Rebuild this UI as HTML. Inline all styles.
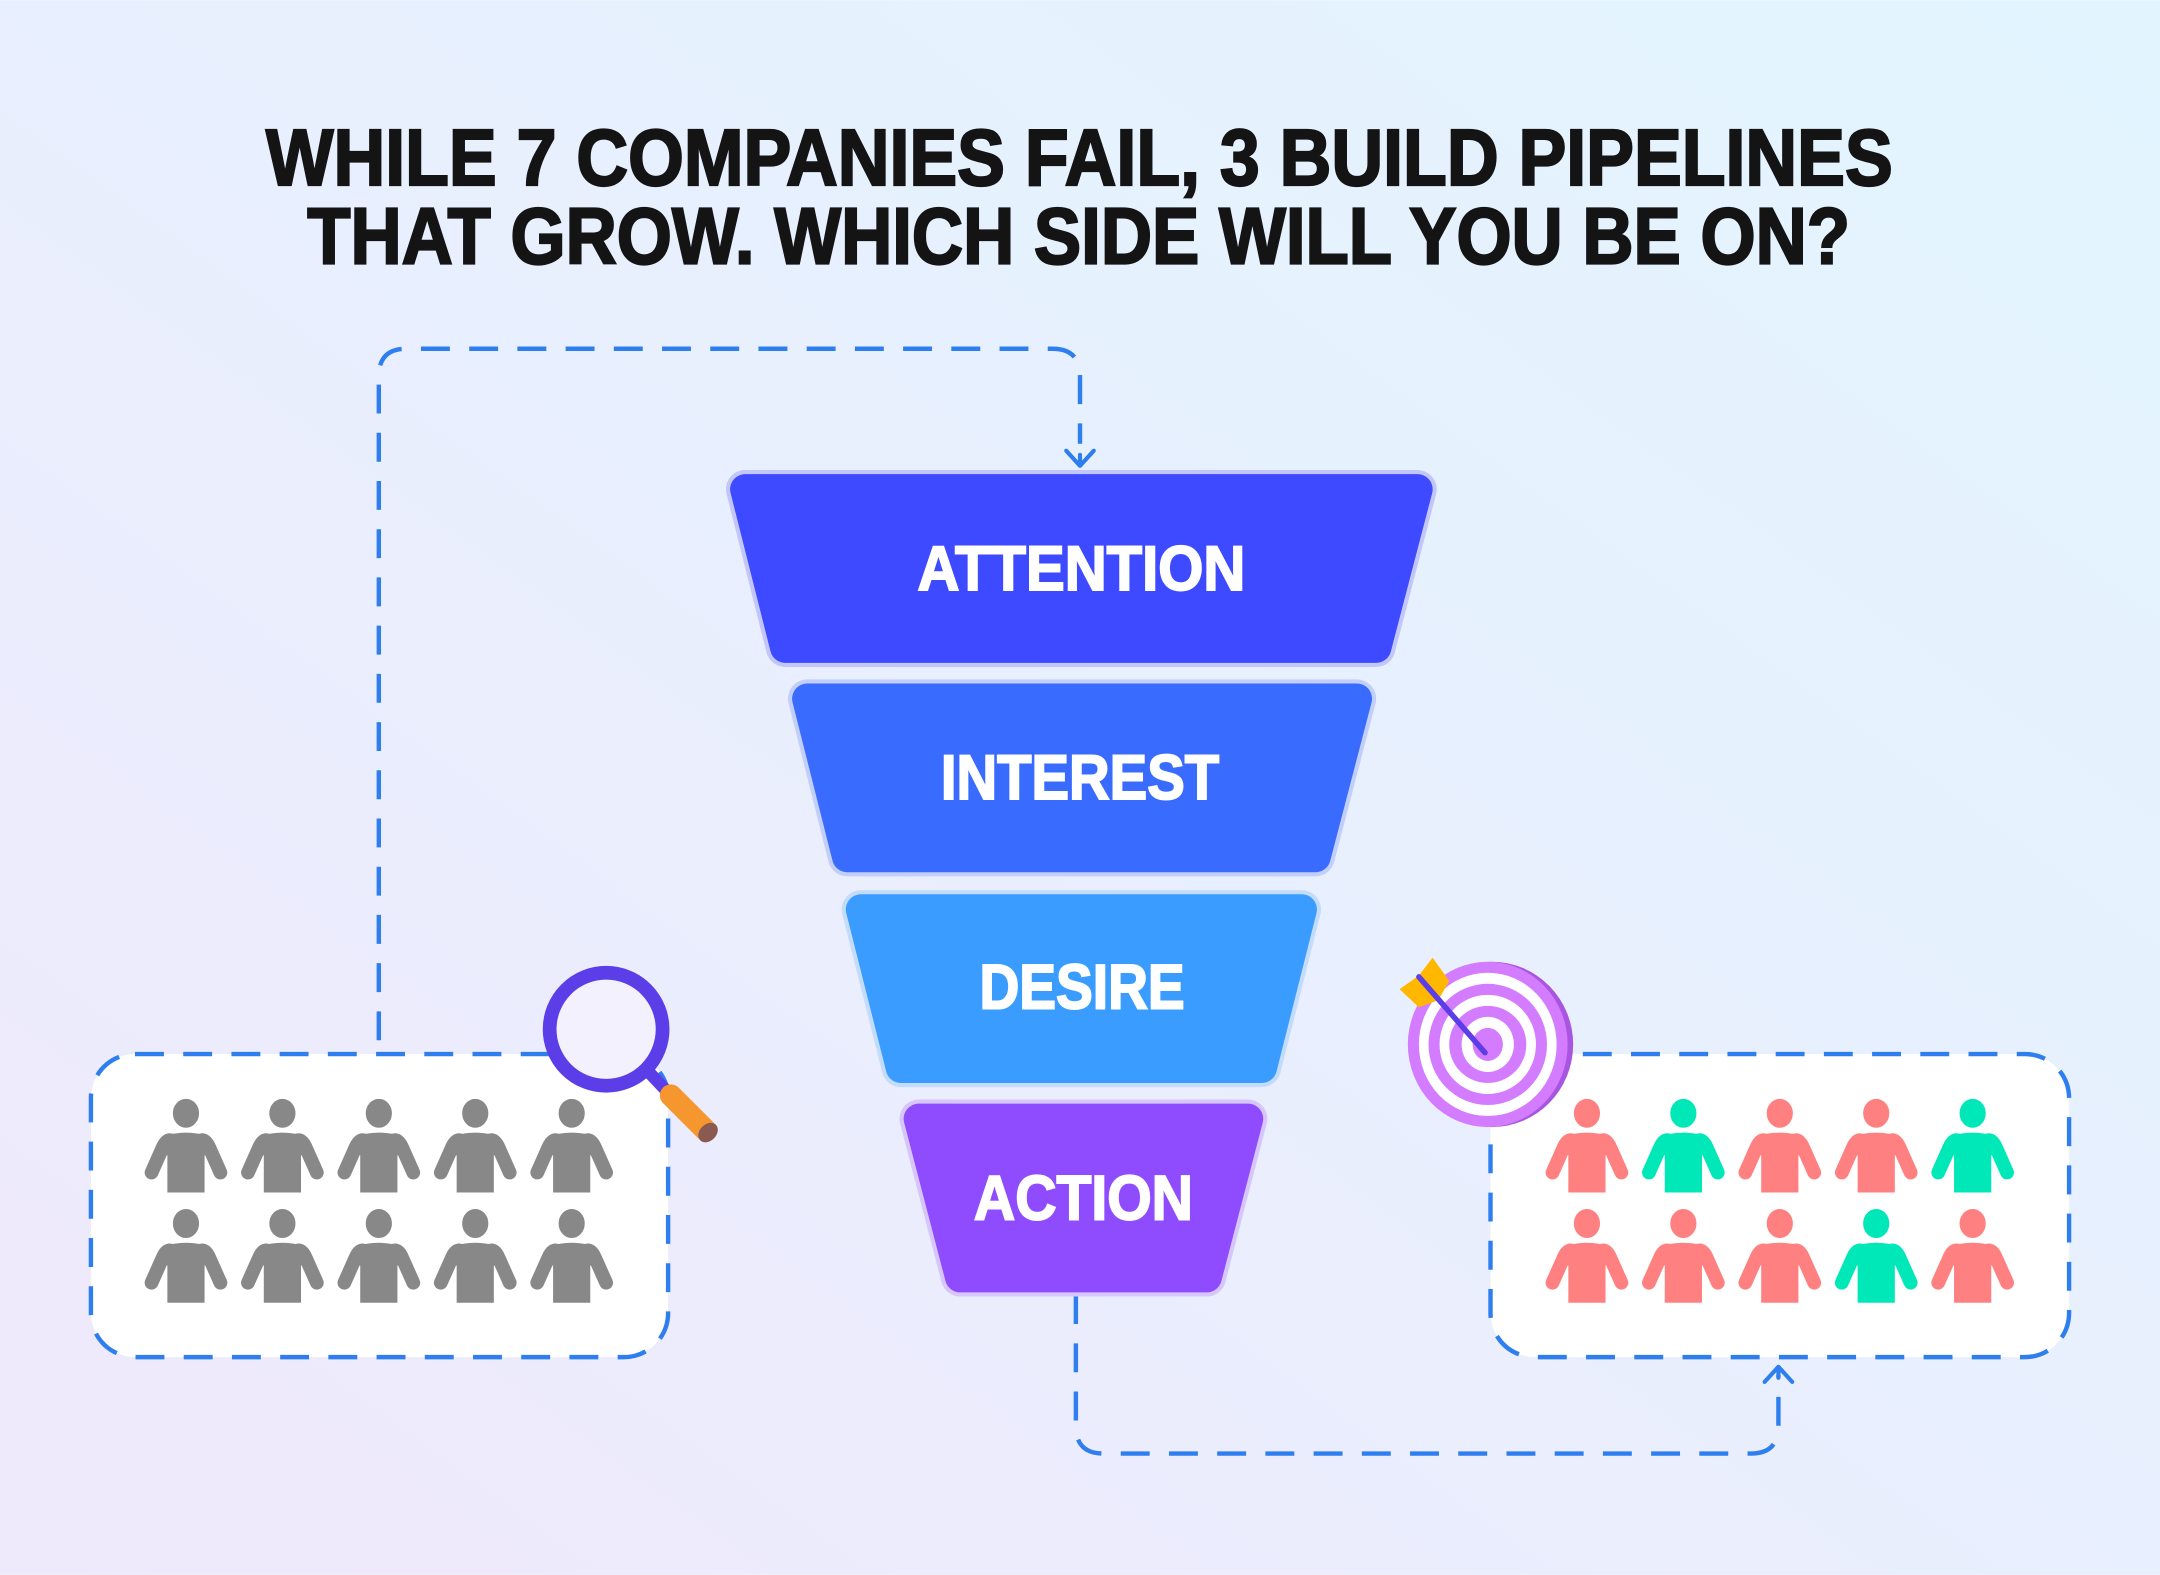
<!DOCTYPE html>
<html><head><meta charset="utf-8"><style>
html,body{margin:0;padding:0;width:2160px;height:1575px;overflow:hidden;}
svg{display:block;}
</style></head><body>
<svg width="2160" height="1575" viewBox="0 0 1568 1143" xmlns="http://www.w3.org/2000/svg">
<defs>
<linearGradient id="bg" x1="1" y1="0" x2="0" y2="1">
<stop offset="0" stop-color="#e2f5ff"/><stop offset="1" stop-color="#efe9fc"/>
</linearGradient>
<g id="p">
<ellipse cx="0" cy="0" rx="9" ry="10"/>
<path d="M-13 57 L-13 26 Q-13 15 0 15 Q13 15 13 26 L13 57 Z"/>
<path d="M-10 20 Q-14 18 -17 25 L-25 43" fill="none" stroke-width="10" stroke-linecap="round" stroke-linejoin="round"/>
<path d="M10 20 Q14 18 17 25 L25 43" fill="none" stroke-width="10" stroke-linecap="round" stroke-linejoin="round"/>
<path d="M-16 17 Q0 12 16 17 L16 30 L-16 30 Z"/>
</g>
</defs>
<rect width="1568" height="1143" fill="url(#bg)"/>
<g font-family="'Liberation Sans',sans-serif" font-weight="bold" fill="#141414" stroke="#141414" stroke-width="1.6" text-anchor="start">
<text x="193" y="134" font-size="58" textLength="1181" lengthAdjust="spacingAndGlyphs">WHILE 7 COMPANIES FAIL, 3 BUILD PIPELINES</text>
<text x="223" y="191" font-size="58" textLength="1120" lengthAdjust="spacingAndGlyphs">THAT GROW. WHICH SIDE WILL YOU BE ON?</text>
</g>
<g fill="none" stroke="#2f7ef0" stroke-width="3.2" stroke-dasharray="21 14">
<path d="M275 755 L275 273 Q275 253 295 253 L764 253 Q784 253 784 273 L784 322"/>
<path d="M781 940 L781 1035 Q781 1055 801 1055 L1271 1055 Q1291 1055 1291 1035 L1291 998"/>
<rect x="66" y="765" width="419" height="220" rx="32" fill="#fff"/>
<rect x="1082" y="765" width="420" height="220" rx="32" fill="#fff"/>
</g>
<g fill="none" stroke="#2f7ef0" stroke-width="3" stroke-linecap="round" stroke-linejoin="round">
<path d="M774 327 L784 338 L794 327 M784 338 L784 330"/>
<path d="M1281 1003 L1291 992 L1301 1003 M1291 992 L1291 1000"/>
</g>
<g stroke-linejoin="round">
<polygon points="541,355 1029,355 999,470 570,470" fill="#3d4aff" stroke="#c3c6fb" stroke-width="28"/>
<polygon points="541,355 1029,355 999,470 570,470" fill="#3d4aff" stroke="#3d4aff" stroke-width="22"/>
<polygon points="586,507 985,507 955,622 615,622" fill="#3a6bff" stroke="#c3cffb" stroke-width="28"/>
<polygon points="586,507 985,507 955,622 615,622" fill="#3a6bff" stroke="#3a6bff" stroke-width="22"/>
<polygon points="625,660 945,660 916,775 654,775" fill="#3a9cff" stroke="#c3dcfb" stroke-width="28"/>
<polygon points="625,660 945,660 916,775 654,775" fill="#3a9cff" stroke="#3a9cff" stroke-width="22"/>
<polygon points="667,812 906,812 876,927 697,927" fill="#8f4cff" stroke="#d6c6fb" stroke-width="28"/>
<polygon points="667,812 906,812 876,927 697,927" fill="#8f4cff" stroke="#8f4cff" stroke-width="22"/>
</g>
<g font-family="'Liberation Sans',sans-serif" font-weight="bold" fill="#fff" stroke="#fff" stroke-width="1.4" font-size="46">
<text x="666" y="428" textLength="238" lengthAdjust="spacingAndGlyphs">ATTENTION</text>
<text x="683" y="580" textLength="202" lengthAdjust="spacingAndGlyphs">INTEREST</text>
<text x="711" y="732" textLength="149" lengthAdjust="spacingAndGlyphs">DESIRE</text>
<text x="707" y="885" textLength="159" lengthAdjust="spacingAndGlyphs">ACTION</text>
</g>
<g fill="#888" stroke="#888">
<use href="#p" x="135" y="808"/><use href="#p" x="205" y="808"/><use href="#p" x="275" y="808"/><use href="#p" x="345" y="808"/><use href="#p" x="415" y="808"/>
<use href="#p" x="135" y="888"/><use href="#p" x="205" y="888"/><use href="#p" x="275" y="888"/><use href="#p" x="345" y="888"/><use href="#p" x="415" y="888"/>
</g>
<g fill="#ff8080" stroke="#ff8080">
<use href="#p" x="1152" y="808"/><use href="#p" x="1292" y="808"/><use href="#p" x="1362" y="808"/>
<use href="#p" x="1152" y="888"/><use href="#p" x="1222" y="888"/><use href="#p" x="1292" y="888"/><use href="#p" x="1432" y="888"/>
</g>
<g fill="#00e8b8" stroke="#00e8b8">
<use href="#p" x="1222" y="808"/><use href="#p" x="1432" y="808"/><use href="#p" x="1362" y="888"/>
</g>
<line x1="470" y1="777" x2="486" y2="794" stroke="#5b3ee8" stroke-width="9"/>
<line x1="487" y1="795" x2="512" y2="820" stroke="#f5962f" stroke-width="16" stroke-linecap="round"/>
<ellipse cx="514" cy="822" rx="6" ry="8" transform="rotate(45 514 822)" fill="#8a5a50"/>
<circle cx="440" cy="747" r="41" fill="#f3f1fd" stroke="#5b3ee8" stroke-width="10"/>
<ellipse cx="1083" cy="758" rx="59" ry="60" fill="#a855e0"/>
<ellipse cx="1080" cy="758" rx="58" ry="60" fill="#d47cff"/>
<ellipse cx="1080" cy="758" rx="50" ry="52" fill="#fff"/>
<ellipse cx="1080" cy="758" rx="43" ry="44" fill="#d47cff"/>
<ellipse cx="1080" cy="758" rx="35" ry="36" fill="#fff"/>
<ellipse cx="1080" cy="758" rx="28" ry="28" fill="#d47cff"/>
<ellipse cx="1080" cy="758" rx="19" ry="20" fill="#fff"/>
<ellipse cx="1080" cy="758" rx="11" ry="12" fill="#d47cff"/>
<polygon points="1016,718 1030,708 1040,695 1052,712 1044,726 1030,731" fill="#ffb700"/>
<line x1="1030" y1="709" x2="1078" y2="764" stroke="#5b3ee8" stroke-width="4" stroke-linecap="round"/>
</svg>
</body></html>
